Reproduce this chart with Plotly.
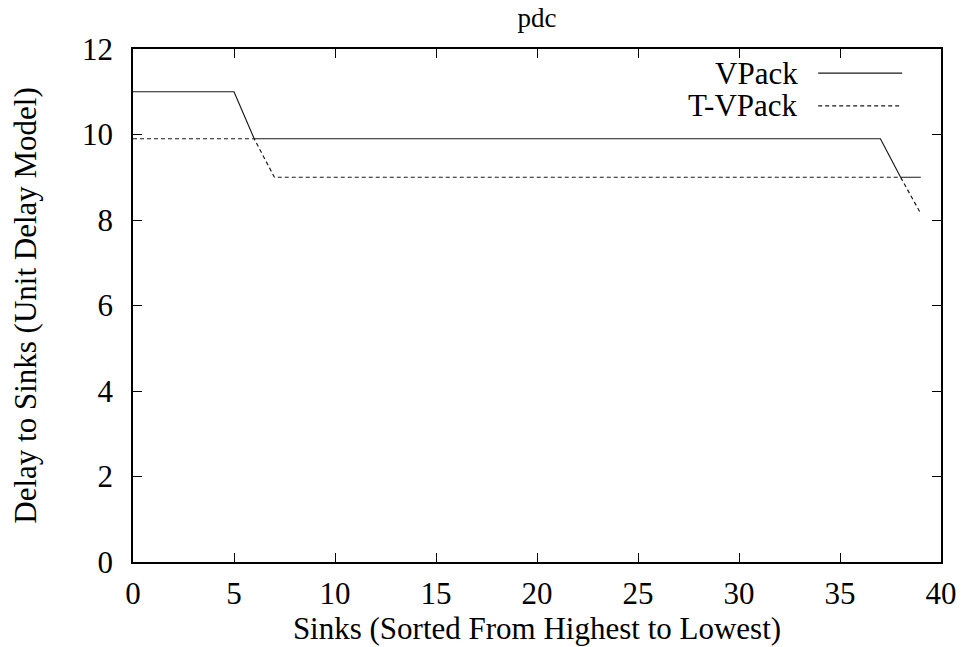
import plotly.graph_objects as go

# Sink index (sorted from highest to lowest delay)
sinks = list(range(40))

# VPack: 11 for sinks 0-5, 9.9 from 6 to 37, then 9 for 38-39
vpack_delay = [11.0] * 6 + [9.9] * 32 + [9.0] * 2
# T-VPack: 9.9 for sinks 0-6, 9 from 7 to 38, then drops for sink 39
tvpack_delay = [9.9] * 7 + [9.0] * 32 + [8.15]

series_names = ["VPack", "T-VPack"]
x_ticks = [0, 5, 10, 15, 20, 25, 30, 35, 40]
y_ticks = [0, 2, 4, 6, 8, 10, 12]

FONT = "Liberation Serif"
FS = 31
LINE_COLOR = "#1a1a1a"

fig = go.Figure()
fig.add_trace(go.Scatter(
    x=sinks, y=vpack_delay, mode="lines", name=series_names[0],
    line=dict(color=LINE_COLOR, width=1.2), showlegend=False,
))
fig.add_trace(go.Scatter(
    x=sinks, y=tvpack_delay, mode="lines", name=series_names[1],
    line=dict(color=LINE_COLOR, width=1.2, dash="4px,3px"), showlegend=False,
))

# Key in the upper right: label text followed by a line sample
key_rows = [(0.953, "solid"), (0.889, "4px,3px")]
for name, (ypos, dash) in zip(series_names, key_rows):
    fig.add_annotation(
        xref="paper", yref="paper", x=0.826, y=ypos, text=name,
        showarrow=False, xanchor="right", yanchor="middle",
        font=dict(family=FONT, size=FS, color="black"),
    )
    fig.add_shape(
        type="line", xref="paper", yref="paper",
        x0=0.848, x1=0.952, y0=ypos, y1=ypos,
        line=dict(color=LINE_COLOR, width=1.2, dash=dash),
    )

axis_common = dict(
    showgrid=False, zeroline=False, showline=True, linecolor="black",
    linewidth=1.5, mirror="allticks", ticks="inside", ticklen=9,
    tickwidth=1, tickcolor="black",
    tickfont=dict(family=FONT, size=FS, color="black"),
    title_font=dict(family=FONT, size=FS, color="black"),
)

fig.update_xaxes(
    range=[0, 40], tickvals=x_ticks, ticktext=[str(v) for v in x_ticks],
    title_text="Sinks (Sorted From Highest to Lowest)", title_standoff=0,
    ticklabelstandoff=3, **axis_common,
)
fig.update_yaxes(
    range=[0, 12], tickvals=y_ticks, ticktext=[str(v) for v in y_ticks],
    title_text="Delay to Sinks (Unit Delay Model)", title_standoff=36,
    ticklabelstandoff=12, **axis_common,
)

fig.update_layout(
    width=969, height=647,
    margin=dict(l=133, r=22, t=49, b=85),
    paper_bgcolor="white", plot_bgcolor="white",
    title=dict(text="pdc", xref="paper", x=0.5, xanchor="center",
               yref="container", y=0.973, yanchor="middle",
               font=dict(family=FONT, size=27, color="black")),
    font=dict(family=FONT, color="black"),
)

fig.write_html("out.html")
